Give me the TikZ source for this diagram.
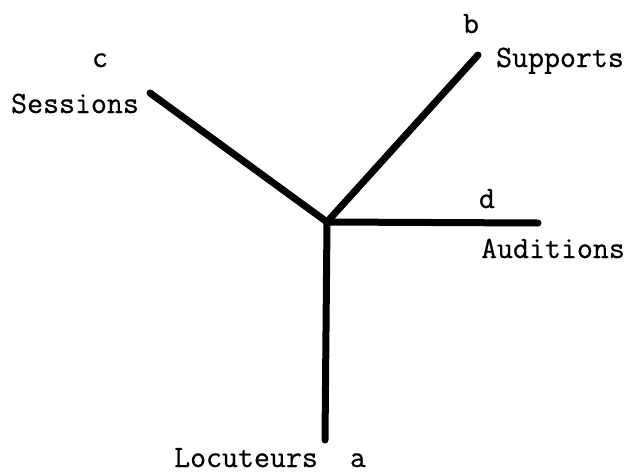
\documentclass[tikz,border=0pt]{standalone}
\usepackage{fontspec}
\newfontfamily\twfont[FakeBold=0.6]{Latin Modern Mono}
\begin{document}
\begin{tikzpicture}[x=1pt,y=-1pt,
  branch/.style={line width=7pt,line cap=round,line join=round,black},
  lbl/.style={anchor=base,inner sep=0pt,font=\twfont\fontsize{31}{37}\selectfont}]
\useasboundingbox (0,0) rectangle (627,475);
\coordinate (o) at (327,222);
\coordinate (ea) at (325,440);
\coordinate (eb) at (478,55);
\coordinate (ec) at (150,93);
\coordinate (ed) at (538,223);
\draw[branch] (ea) -- (o) -- (ed);
\draw[branch] (ec) -- (o) -- (eb);
\node[lbl] (lc) at (100,67) {c};
\node[lbl] (ls) at (75,113) {Sessions};
\node[lbl] (lb) at (471,33) {b};
\node[lbl] (lsu) at (560,67) {Supports};
\node[lbl] (ld) at (487,208) {d};
\node[lbl] (lau) at (553,258) {Auditions};
\node[lbl] (llo) at (246,467) {Locuteurs};
\node[lbl] (la) at (358,467) {a};
\end{tikzpicture}
\end{document}
